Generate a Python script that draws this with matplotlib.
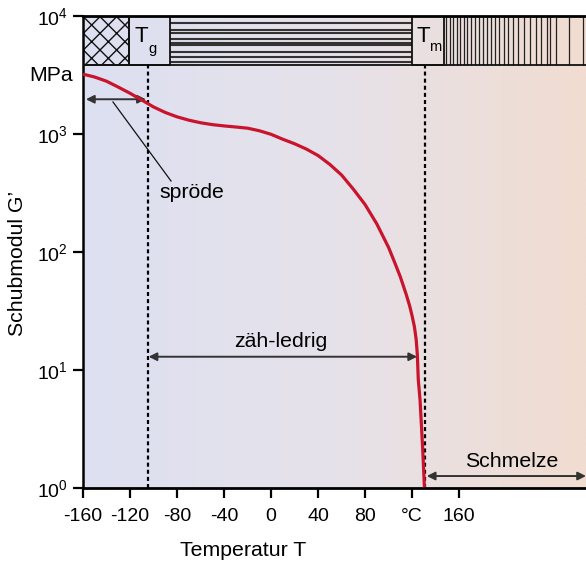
import numpy as np
import matplotlib
matplotlib.use("Agg")
import matplotlib.pyplot as plt
from matplotlib.colors import LinearSegmentedColormap
from matplotlib.patches import Rectangle

plt.rcParams['font.family'] = ['Liberation Sans', 'DejaVu Sans']
plt.rcParams['mathtext.fontset'] = 'custom'
plt.rcParams['mathtext.rm'] = 'Liberation Sans'
plt.rcParams['mathtext.default'] = 'regular'
plt.rcParams['hatch.linewidth'] = 1.0

# Schubmodul-Kurve (Temperatur in °C, G' in MPa)
temp = [-160, -150, -140, -130, -120, -110, -100, -90, -80, -70, -60, -50, -40,
        -30, -20, -10, 0, 10, 20, 30, 40, 50, 60, 70, 80, 90, 100,
        105, 110, 115, 118, 120, 122, 123.5, 124.5, 125.3, 126.8, 129.1, 130.5]
modul = [3236, 3055, 2818, 2512, 2228, 1950, 1706, 1531, 1406, 1318, 1253, 1208, 1178,
         1153, 1127, 1072, 1000, 908, 832, 750, 661, 556, 452, 343, 254, 174, 110,
         83, 62, 44, 35, 29, 23.4, 18.2, 13.5, 8.3, 5.6, 2.1, 1.02]

x_ticks = [-160, -120, -80, -40, 0, 40, 80, 120, 160]
x_labels = ['-160', '-120', '-80', '-40', '0', '40', '80', '°C', '160']
y_ticks = [1, 10, 100, 1000, 10000]
y_labels = ['$10^0$', '$10^1$', '$10^2$', '$10^3$', '$10^4$']

t_glass = -105
t_melt = 131.3

# Zustandsleiste oben
band_low = 10 ** 3.584
band_top = 1e4
cross_end = -120.6
tg_box = (-120.6, -86)
tm_box = (119.7, 147.5)
hline_levels = [3.946, 3.884, 3.856, 3.805, 3.776, 3.756, 3.699, 3.652, 3.614]
vline_pos = [148.9, 151.9, 154.9, 157.9, 160.9, 163.8, 166.8, 170.2, 173.6, 177.0,
             180.4, 183.8, 187.2, 190.6, 194.0, 197.9, 201.7, 206.0, 210.2, 215.3,
             220.4, 225.5, 229.8, 234.9, 237.4, 242.6, 253.6, 265.5]

x_min, x_max = -160, 268
fs_tick = 14
fs_text = 15.3

fig = plt.figure(figsize=(5.86, 5.63), dpi=100)
ax = fig.add_axes([83 / 586, 1 - 488.3 / 563, 503 / 586, 472 / 563])
ax.set_yscale('log')
ax.set_xlim(x_min, x_max)
ax.set_ylim(1, 1e4)

cmap = LinearSegmentedColormap.from_list('bg', ['#dde0f1', '#e6e2ea', '#f1dcd0'])
grad = np.linspace(0, 1, 256).reshape(1, -1)
ax.imshow(grad, extent=[0, 1, 0, 1], transform=ax.transAxes, aspect='auto',
          cmap=cmap, zorder=0)

# Leiste
ax.add_patch(Rectangle((x_min, band_low), cross_end - x_min, band_top - band_low,
                       fill=False, hatch='xx', edgecolor='#111111', lw=1.2, zorder=2))
for x0, x1 in [tg_box, tm_box]:
    ax.add_patch(Rectangle((x0, band_low), x1 - x0, band_top - band_low,
                           fill=False, edgecolor='#111111', lw=1.3, zorder=3))
ax.hlines([10 ** v for v in hline_levels], tg_box[1], tm_box[0],
          color='#333333', lw=1.5, zorder=2)
ax.vlines(vline_pos, band_low, band_top, color='#222222', lw=0.9, zorder=2)
ax.axhline(band_low, color='#111111', lw=1.3, zorder=3)
ax.axhline(band_top, color='black', lw=2, zorder=4, clip_on=False)

ax.text(-110, 10 ** 3.827, 'T', fontsize=16, ha='center', va='center', zorder=5)
ax.text(-101, 10 ** 3.725, 'g', fontsize=10.5, ha='center', va='center', zorder=5)
ax.text(129.6, 10 ** 3.827, 'T', fontsize=16, ha='center', va='center', zorder=5)
ax.text(139.8, 10 ** 3.74, 'm', fontsize=10.5, ha='center', va='center', zorder=5)

# Tg / Tm
dots = (0, (1.8, 1.4))
ax.vlines([t_glass, t_melt], 1, band_low, color='black', lw=1.6, linestyles=[dots],
          zorder=3)

ax.plot(temp, modul, color='#c8142c', lw=2.3, solid_joinstyle='round',
        solid_capstyle='butt', zorder=6, clip_on=False)

arrow = dict(arrowstyle='<|-|>', color='#333333', lw=1.4, mutation_scale=12,
             shrinkA=0, shrinkB=0)
ax.annotate('', xy=(t_glass - 1.5, 10 ** 3.297), xytext=(-157.5, 10 ** 3.297),
            arrowprops=arrow, zorder=5)
ax.plot([-134.5, -85.1], [10 ** 3.274, 10 ** 2.604], color='#111111', lw=0.9, zorder=5)
ax.text(-67.2, 10 ** 2.504, 'spröde', fontsize=fs_text, ha='center', va='center')

ax.annotate('', xy=(124.3, 10 ** 1.115), xytext=(t_glass + 0.8, 10 ** 1.115),
            arrowprops=arrow, zorder=5)
ax.text(8.5, 10 ** 1.24, 'zäh-ledrig', fontsize=fs_text, ha='center', va='center')

ax.annotate('', xy=(x_max, 10 ** 0.104), xytext=(t_melt + 1.2, 10 ** 0.104),
            arrowprops=arrow, zorder=5, annotation_clip=False)
ax.text(204.8, 10 ** 0.23, 'Schmelze', fontsize=fs_text, ha='center', va='center')

ax.text(-0.02, 10 ** 3.5, 'MPa', transform=ax.get_yaxis_transform(), fontsize=fs_text,
        ha='right', va='center')

ax.set_xticks(x_ticks)
ax.set_xticklabels(x_labels)
ax.set_yticks(y_ticks)
ax.set_yticklabels(y_labels)
ax.minorticks_off()
ax.tick_params(axis='both', which='major', direction='out', length=7, width=1.6,
               labelsize=fs_tick, color='black')
ax.tick_params(axis='x', pad=7)
ax.tick_params(axis='y', pad=4)

for side in ['top', 'right']:
    ax.spines[side].set_visible(False)
ax.spines['left'].set_linewidth(1.8)
ax.spines['bottom'].set_linewidth(2.0)

fig.text(18 / 586, 1 - 263 / 563, 'Schubmodul G’', rotation=90, fontsize=fs_text,
         ha='center', va='center')
fig.text(243 / 586, 1 - 550.7 / 563, 'Temperatur T', fontsize=fs_text,
         ha='center', va='center')

fig.savefig('out.png', dpi=100)
